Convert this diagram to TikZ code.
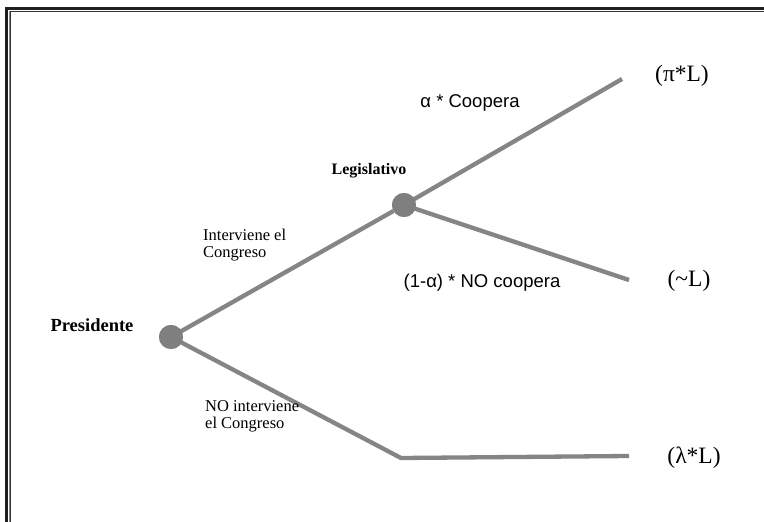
\documentclass[tikz,border=0pt]{standalone}
\usepackage{fontspec}
\setmainfont{Liberation Serif}
\newfontfamily\sansf{Liberation Sans}
\definecolor{branch}{HTML}{858585}
\definecolor{dotc}{HTML}{7F7F7F}
\begin{document}
\begin{tikzpicture}[x=1pt,y=-1pt,
  branchline/.style={draw=branch,line width=4.3pt},
  decision/.style={circle,fill=dotc,minimum size=24pt,inner sep=0pt},
  actor/.style={font=\fontsize{18.5}{20}\selectfont\bfseries,inner sep=0pt},
  edgelbl/.style={font=\fontsize{16.5}{17}\selectfont,align=left,inner sep=0pt},
  choice/.style={font=\sansf\fontsize{18.5}{21}\selectfont,inner sep=0pt},
  payoff/.style={font=\fontsize{23.5}{26}\selectfont,inner sep=0pt}]
\useasboundingbox (0,0) rectangle (764,522);
\fill[white] (0,0) rectangle (764,522);
% frame
\draw[line width=3pt,black!88] (6.5,530) -- (6.5,8.5) -- (770,8.5);
\draw[line width=1pt,black!45] (9.5,530) -- (9.5,11);
\draw[line width=0.8pt,black!80] (10.8,530) -- (10.8,11) -- (770,11);
% endpoints
\coordinate (piend) at (622,79);
\coordinate (simend) at (629,280);
\coordinate (kink) at (401,458);
\coordinate (lamend) at (629,456);
% decision nodes
\node[decision] (pres) at (171,337) {};
\node[decision] (leg) at (404,205) {};
% branches
\draw[branchline] (pres.center) -- (leg);
\draw[branchline] (leg.center) -- (piend);
\draw[branchline] (leg.center) -- (simend);
\draw[branchline] (pres.center) -- (kink) -- (lamend);
\node[decision] at (pres) {};
\node[decision] at (leg) {};
% labels
\node[actor] (presl) at (92,325) {Presidente};
\node[actor,font=\fontsize{16}{19}\selectfont\bfseries] (legl) at (369,171) {Legislativo};
\node[edgelbl,anchor=west] (intl) at (203,245) {Interviene el\\Congreso};
\node[edgelbl,anchor=west] (nointl) at (205,416) {NO interviene\\el Congreso};
\node[choice] (coop) at (470,103) {α * Coopera};
\node[choice] (nocoop) at (482,283) {(1-α) * NO coopera};
\node[payoff] (pil) at (682,76) {(π*L)};
\node[payoff] (siml) at (689,281) {(\textasciitilde L)};
\node[payoff] (laml) at (694,458) {(λ*L)};
\end{tikzpicture}
\end{document}
